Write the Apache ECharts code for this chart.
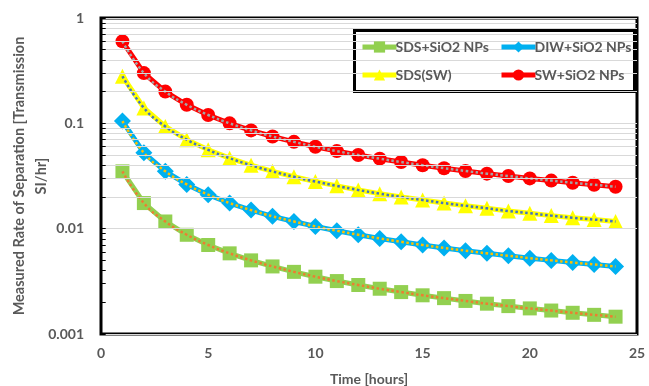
<!DOCTYPE html>
<html><head><meta charset="utf-8">
<script src="https://cdn.jsdelivr.net/npm/echarts@6/dist/echarts.min.js"></script>
<style>html,body{margin:0;padding:0;background:#fff}#c{width:649px;height:386px}</style>
</head><body><div id="c"></div>
<script>
var hours = [1,2,3,4,5,6,7,8,9,10,11,12,13,14,15,16,17,18,19,20,21,22,23,24];
var sdsSio2 = [0.035,0.0175,0.0117,0.00875,0.007,0.00583,0.005,0.00438,0.00389,0.0035,0.00318,0.00292,0.00269,0.0025,0.00233,0.00219,0.00206,0.00194,0.00184,0.00175,0.00167,0.00159,0.00152,0.00146];
var diwSio2 = [0.105,0.0525,0.035,0.0263,0.021,0.0175,0.015,0.0131,0.0117,0.0105,0.00955,0.00875,0.00808,0.0075,0.007,0.00656,0.00618,0.00583,0.00553,0.00525,0.005,0.00477,0.00457,0.00438];
var sdsSw = [0.28,0.14,0.0933,0.07,0.056,0.0467,0.04,0.035,0.0311,0.028,0.0255,0.0233,0.0215,0.02,0.0187,0.0175,0.0165,0.0156,0.0147,0.014,0.0133,0.0127,0.0122,0.0117];
var swSio2 = [0.6,0.3,0.2,0.15,0.12,0.1,0.0857,0.075,0.0667,0.06,0.0545,0.05,0.0462,0.0429,0.04,0.0375,0.0353,0.0333,0.0316,0.03,0.0286,0.0273,0.0261,0.025];
var yTickLabels = {1:'1',0.1:'0.1',0.01:'0.01',0.001:'0.001'};

function pairs(arr){ return hours.map(function(h,i){ return [h, arr[i]]; }); }
var minorVals = [];
[0.001,0.01,0.1].forEach(function(d){ for (var k=2;k<=9;k++) minorVals.push(+(d*k).toPrecision(3)); });
var allTicks = minorVals.concat([0.001,0.01,0.1,1]);

var txt = '#595959';
var font = 'Lato';

function mainSeries(name, data, color, symbol, size){
  return {name:name, type:'line', data:pairs(data), symbol:symbol, symbolSize:size,
    lineStyle:{color:color, width:5}, itemStyle:{color:color}, z:3, emphasis:{disabled:true}};
}
function trend(data, color){
  return {name:'trend', type:'line', data:pairs(data), symbol:'none', smooth:true,
    lineStyle:{color:color, width:2.5, type:'dotted'}, z:4, silent:true, emphasis:{disabled:true}};
}
var legendText = {color:txt, fontSize:14, fontWeight:'bold', fontFamily:font, padding:[0,0,0,-6]};

var chart = echarts.init(document.getElementById('c'));
chart.setOption({
  animation:false,
  grid:{left:101, top:18, right:12, bottom:52, outerBoundsMode:'none', containLabel:false,
    show:true, borderColor:'#000', borderWidth:3, backgroundColor:'transparent'},
  xAxis:{type:'value', min:0, max:25, interval:5,
    axisLine:{show:false}, axisTick:{show:false}, splitLine:{show:false},
    axisLabel:{color:txt, fontSize:14, fontWeight:'bold', fontFamily:font, margin:12},
    name:'Time [hours]', nameLocation:'middle', nameGap:38, nameMoveOverlap:false,
    nameTextStyle:{color:txt, fontSize:14, fontWeight:'bold', fontFamily:font}},
  yAxis:{type:'log', logBase:10, min:0.001, max:1,
    axisLine:{show:false}, axisTick:{show:false},
    splitLine:{show:true, lineStyle:{color:'#d9d9d9', width:1}},
    axisLabel:{color:txt, fontSize:14, fontWeight:'bold', fontFamily:font, margin:17,
      formatter:function(v){ var k=+v.toPrecision(3); return yTickLabels[k]!==undefined?yTickLabels[k]:''; }},
    name:'Measured Rate of Separation [Transmission\nSI/hr]', nameLocation:'middle', nameGap:49, nameRotate:90,
    nameMoveOverlap:false,
    nameTextStyle:{color:txt, fontSize:14.5, fontWeight:'bold', fontFamily:font, lineHeight:22}},
  legend:[
    {data:['SDS+SiO2 NPs','SDS(SW)'], orient:'vertical', left:355, top:35, itemGap:14, itemWidth:34, itemHeight:14,
      lineStyle:{width:5, color:'inherit', type:'solid'}, textStyle:legendText, z:6},
    {data:['DIW+SiO2 NPs','SW+SiO2 NPs'], orient:'vertical', left:494, top:35, itemGap:14, itemWidth:34, itemHeight:14,
      lineStyle:{width:5, color:'inherit', type:'solid'}, textStyle:legendText, z:6}
  ],
  graphic:[{type:'rect', left:353, top:29, shape:{width:280, height:61}, style:{fill:'#fff', stroke:'#000', lineWidth:3}, z:5}],
  series:[
    {name:'grid', type:'line', data:[], silent:true, z:1,
      markLine:{silent:true, symbol:'none', label:{show:false}, animation:false,
        lineStyle:{color:'#d9d9d9', width:1, type:'solid'},
        data:minorVals.map(function(v){ return {yAxis:v}; })}},
    {name:'ticks', type:'line', data:[], silent:true, z:5,
      markLine:{silent:true, symbol:'none', label:{show:false}, animation:false,
        lineStyle:{color:'#000', width:1, type:'solid'},
        data:allTicks.map(function(v){ return [{coord:[0,v]},{coord:[0.22,v]}]; })}},
    mainSeries('SDS+SiO2 NPs', sdsSio2, '#92D050', 'rect', 14),
    mainSeries('DIW+SiO2 NPs', diwSio2, '#00B0F0', 'diamond', 17),
    mainSeries('SDS(SW)', sdsSw, '#FFFF00', 'triangle', 15),
    mainSeries('SW+SiO2 NPs', swSio2, '#FF0000', 'circle', 14),
    trend(sdsSio2, '#ED7D31'),
    trend(diwSio2, '#FFC000'),
    trend(sdsSw, '#4472C4'),
    trend(swSio2, '#A5A5A5')
  ]
});
</script></body></html>
